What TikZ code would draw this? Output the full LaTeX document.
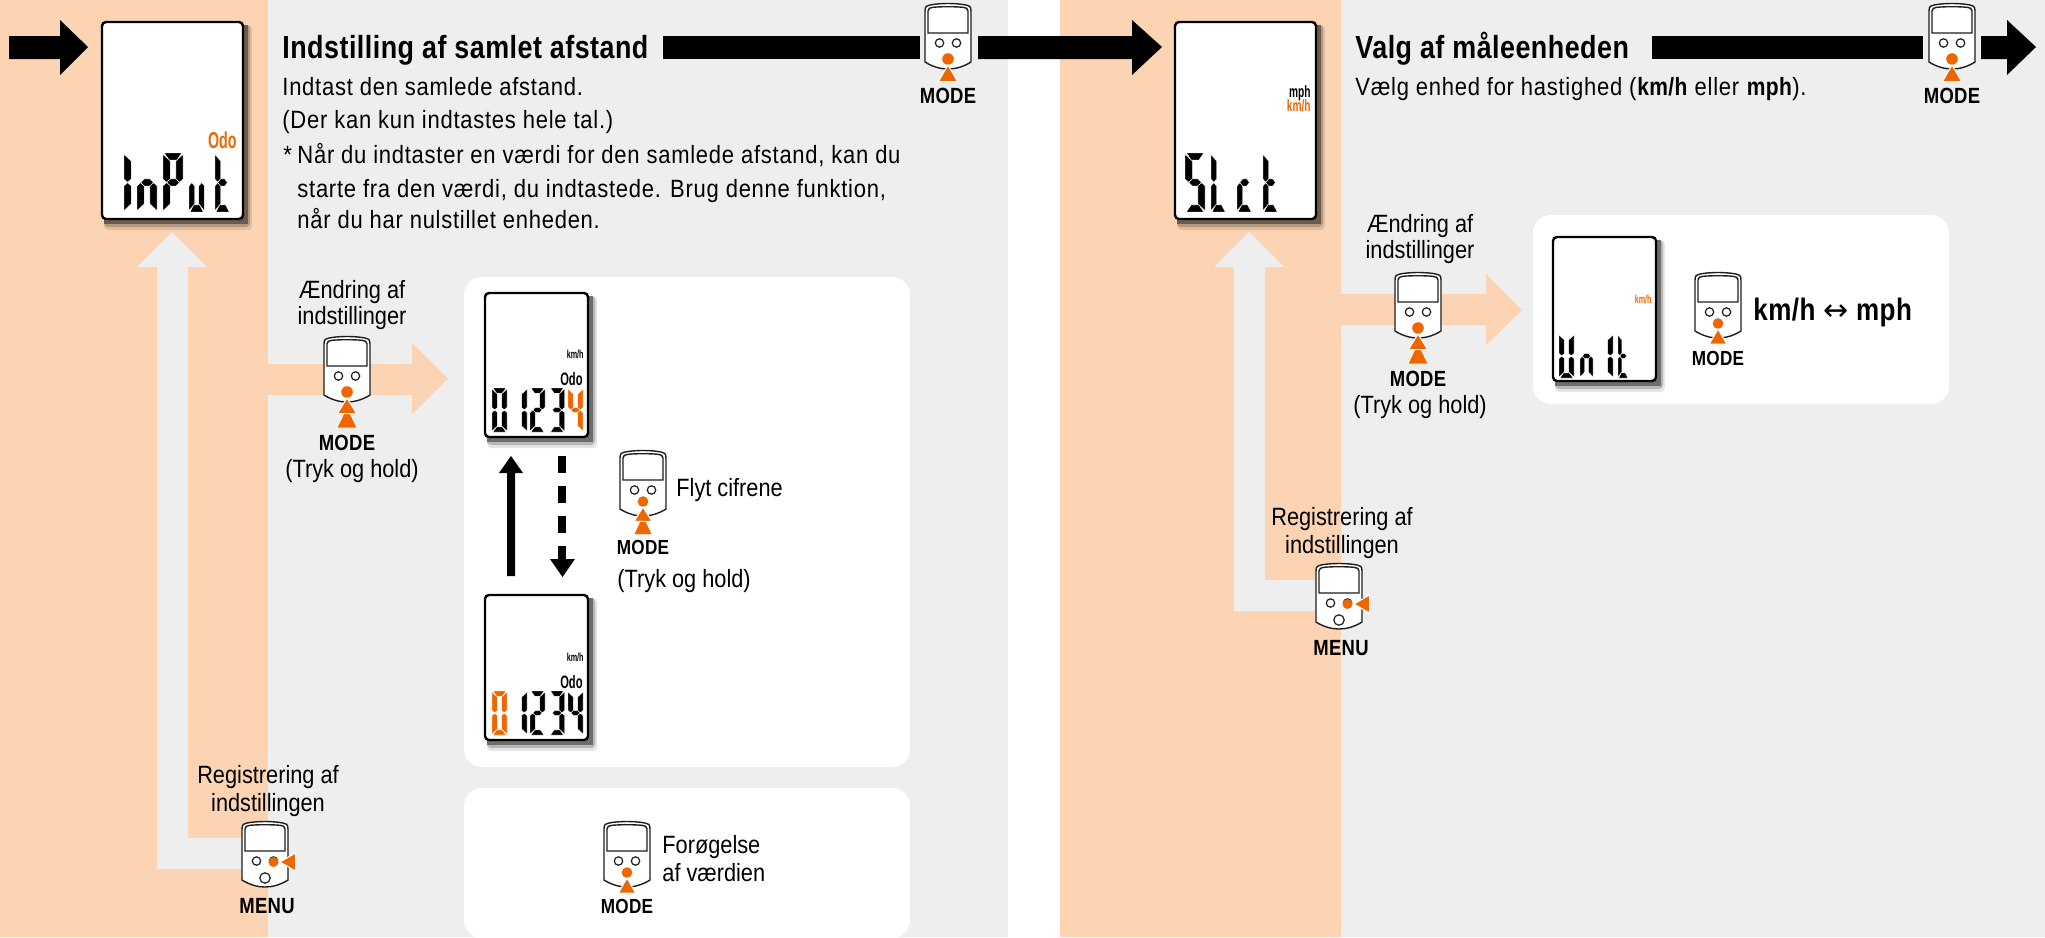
\documentclass[tikz,border=0pt]{standalone}
\usepackage{fontspec}
\usepackage{amsmath}
\setmainfont{Liberation Sans}[FakeStretch=0.87, BoldFeatures={FakeStretch=0.84, LetterSpace=1.5}]
\newfontfamily\bodyfont{Liberation Sans}[FakeStretch=0.88, LetterSpace=3, BoldFeatures={FakeStretch=0.84, LetterSpace=1.5}]
\newfontfamily\narrowbold{Liberation Sans Bold}[FakeStretch=0.62]
\definecolor{mpeach}{RGB}{252, 212, 180}
\definecolor{mgrey}{RGB}{238, 238, 238}
\definecolor{morange}{RGB}{238, 102, 0}
\definecolor{mline}{RGB}{30, 30, 30}

\newcommand{\segA}{(1, 0) -- (14, 0) -- (10.4, 5.2) -- (4.6, 5.2) -- cycle}
\newcommand{\segB}{(15, 1) -- (15, 19.5) -- (12.4, 21.8) -- (9.6, 19.5) -- (9.6, 6) -- cycle}
\newcommand{\segC}{(15, 43) -- (15, 24.5) -- (12.4, 22.2) -- (9.6, 24.5) -- (9.6, 38) -- cycle}
\newcommand{\segD}{(1, 44) -- (14, 44) -- (10.4, 38.8) -- (4.6, 38.8) -- cycle}
\newcommand{\segE}{(0, 43) -- (0, 24.5) -- (2.6, 22.2) -- (5.4, 24.5) -- (5.4, 38) -- cycle}
\newcommand{\segF}{(0, 1) -- (0, 19.5) -- (2.6, 21.8) -- (5.4, 19.5) -- (5.4, 6) -- cycle}
\newcommand{\segG}{(2.8, 22) -- (5.4, 19.4) -- (9.6, 19.4) -- (12.2, 22) -- (9.6, 24.6) -- (5.4, 24.6) -- cycle}

% #1 x, #2 y, #3 xscale, #4 yscale, #5 colour, #6 segments
\newcommand{\lcdglyph}[6]{
  \begin{scope}[shift={(#1, #2)}, xscale=#3, yscale=#4, fill=#5, draw=white, line width=0.2pt]
    \foreach \seg in {#6} {
      \expandafter\filldraw\csname seg\seg\endcsname;
    }
  \end{scope}
}
\newcommand{\lcdframe}[4]{
  \fill [black, opacity=0.1, rounded corners=2pt] (#1 + 3, #2 + 4) rectangle (#3 + 8, #4 + 10);
  \fill [black, opacity=0.2, rounded corners=2pt] (#1 + 3, #2 + 4) rectangle (#3 + 6, #4 + 7);
  \fill [black, opacity=0.4] (#1 + 3, #2 + 4) rectangle (#3 + 3.5, #4 + 4);
  \draw [black, fill=white, line width=1.2pt, rounded corners=2pt] (#1 + 1, #2 + 1) rectangle (#3 - 1, #4 - 1);
}
\newcommand{\digitrow}[3]{
  \lcdglyph{492}{#1}{1}{1}{#2}{A,B,C,D,E,F}
  \lcdglyph{512}{#1}{1}{1}{black}{B,C}
  \lcdglyph{530}{#1}{1}{1}{black}{A,B,G,E,D}
  \lcdglyph{549.5}{#1}{1}{1}{black}{A,B,G,C,D}
  \lcdglyph{568}{#1}{1}{1}{#3}{F,G,B,C}
}

\tikzset{
  devicebody/.pic = {
    \draw [mline, fill=white, line width=0.7pt] (-23, 8) .. controls (-23, 3) and (-21, 2.5) .. (-18, 2)
      .. controls (-8, 0) and (8, 0) .. (18, 2) .. controls (21, 2.5) and (23, 3) .. (23, 8)
      -- (23, 59) .. controls (15, 64) and (7, 66) .. (0, 66)
      .. controls (-7, 66) and (-15, 64) .. (-23, 59) -- cycle;
    \draw [mline, line width=0.7pt] (-20, 30) -- (-20, 8) .. controls (-20, 5.5) and (-18, 4.5) .. (-15, 4.3)
      .. controls (-6, 3.5) and (6, 3.5) .. (15, 4.3) .. controls (18, 4.5) and (20, 5.5) .. (20, 8)
      -- (20, 30) -- cycle;
    \draw [mline, line width=0.6pt] (-8.5, 40) circle [radius=4.2];
    \draw [mline, line width=0.6pt] (8.5, 40) circle [radius=4.2];
  },
  modekey/.pic = {
    \pic {devicebody};
    \fill [morange] (0, 56) circle [radius=5.8];
    \filldraw [morange, draw=white, line width=0.5pt] (0, 62) -- (9.5, 78.5) -- (-9.5, 78.5) -- cycle;
  },
  holdkey/.pic = {
    \pic {devicebody};
    \fill [morange] (0, 56) circle [radius=5.8];
    \filldraw [morange, draw=white, line width=0.3pt] (0, 71) -- (10, 92) -- (-10, 92) -- cycle;
    \filldraw [morange, draw=white, line width=0.5pt] (0, 62) -- (9.5, 77.5) -- (-9.5, 77.5) -- cycle;
  },
  menukey/.pic = {
    \pic {devicebody};
    \draw [mline, line width=0.6pt] (0, 57) circle [radius=5.2];
    \fill [morange] (8.5, 41) circle [radius=5];
    \filldraw [morange, draw=white, line width=0.5pt] (15, 41) -- (30.5, 32) -- (30.5, 50) -- cycle;
  },
  plaintext/.style = {inner sep=0, font=\fontsize{12.5}{15}\selectfont, text=black},
  lefttext/.style = {plaintext, anchor=base west},
  midtext/.style = {plaintext, anchor=base},
  bodytext/.style = {inner sep=0, anchor=base west, text=black, font=\bodyfont\fontsize{12.5}{15}\selectfont},
  titletext/.style = {inner sep=0, anchor=base west, font=\fontsize{16}{19}\bfseries\selectfont},
  keytext/.style = {inner sep=0, anchor=base, font=\fontsize{11}{13}\bfseries\selectfont},
  smallkeytext/.style = {inner sep=0, anchor=base, font=\fontsize{10.2}{12}\bfseries\selectfont},
  lcdtext/.style = {inner sep=0, anchor=base east, font=\narrowbold\fontsize{#1}{#1}\selectfont},
  whitebox/.style = {fill=white, rounded corners=9pt},
}

\begin{document}
\begin{tikzpicture}[x=0.5pt, y=-0.5pt]
  \useasboundingbox (0, 0) rectangle (2045, 937);

  \fill [mpeach] (0, 0) rectangle (268, 937);
  \fill [mgrey] (268, 0) rectangle (1008, 937);
  \fill [mpeach] (1060, 0) rectangle (1341, 937);
  \fill [mgrey] (1341, 0) rectangle (2045, 937);

  \begin{scope}
    \clip (0, 0) rectangle (2045, 937);
    \fill [whitebox] (464, 277) rectangle (910, 767);
    \fill [whitebox] (464, 788) rectangle (910, 938);
    \fill [whitebox] (1533, 215) rectangle (1949, 404);
  \end{scope}

  % return arrows
  \fill [mgrey] (268, 838) -- (188, 838) -- (188, 267) -- (207, 267) -- (172, 232)
    -- (137, 267) -- (157, 267) -- (157, 869) -- (268, 869) -- cycle;
  \fill [mgrey] (1341, 580) -- (1265, 580) -- (1265, 267) -- (1284, 267) -- (1249, 232)
    -- (1214, 267) -- (1234, 267) -- (1234, 611) -- (1341, 611) -- cycle;

  % setting arrows
  \fill [mpeach] (268, 364) -- (412, 364) -- (412, 343) -- (448, 379) -- (412, 414) -- (412, 395) -- (268, 395) -- cycle;
  \fill [mpeach] (1341, 294) -- (1486, 294) -- (1486, 274) -- (1522, 310) -- (1486, 345) -- (1486, 325) -- (1341, 325) -- cycle;

  % flow arrows
  \fill (9, 36) -- (60, 36) -- (60, 20) -- (88, 47) -- (60, 75) -- (60, 59) -- (9, 59) -- cycle;
  \fill (663, 36) rectangle (920, 59);
  \fill (978, 36) -- (1132, 36) -- (1132, 20) -- (1162, 47) -- (1132, 75) -- (1132, 59) -- (978, 59) -- cycle;
  \fill (1652, 36) rectangle (1923, 59);
  \fill (1981, 36) -- (2007, 36) -- (2007, 20) -- (2036, 47) -- (2007, 75) -- (2007, 59) -- (1981, 59) -- cycle;

  % up and down between the displays
  \fill (507, 576) -- (507, 473) -- (499, 473) -- (511, 456) -- (523, 473) -- (515, 473) -- (515, 576) -- cycle;
  \draw [line width=4pt, dash pattern=on 8.5pt off 6.5pt] (562, 456) -- (562, 560);
  \fill (550, 559) -- (575, 559) -- (562.5, 577) -- cycle;

  % displays
  \lcdframe{101}{21}{244}{220}
  \node [lcdtext=11.5, text=morange] (odotop) at (237, 148) {Odo};
  \lcdglyph{124}{153}{1.34}{1.34}{black}{E,F}
  \lcdglyph{137}{153}{1.34}{1.34}{black}{E,G,C}
  \lcdglyph{163}{153}{1.34}{1.34}{black}{A,B,F,G,E}
  \lcdglyph{189}{153}{1.02}{1.34}{black}{E,D,C}
  \lcdglyph{215}{153}{1.02}{1.34}{black}{F,E,G,D}

  \lcdframe{484}{292}{589}{438}
  \node [lcdtext=5.8] (kmhupper) at (584, 358) {km/h};
  \node [lcdtext=9] (odoupper) at (583, 385) {Odo};
  \digitrow{388}{black}{morange}

  \lcdframe{484}{594}{589}{741}
  \node [lcdtext=5.8] (kmhlower) at (584, 661) {km/h};
  \node [lcdtext=9] (odolower) at (583, 688) {Odo};
  \digitrow{691}{morange}{black}

  \lcdframe{1174}{21}{1317}{220}
  \node [lcdtext=8.2] (mphtop) at (1311, 97) {mph};
  \node [lcdtext=8.2, text=morange] (kmhtop) at (1311, 111) {km/h};
  \lcdglyph{1185}{153}{1.34}{1.34}{black}{A,F,G,C,D}
  \lcdglyph{1211}{153}{1.02}{1.34}{black}{F,E,D}
  \lcdglyph{1237}{153}{1.02}{1.34}{black}{G,E,D}
  \lcdglyph{1263}{153}{1.02}{1.34}{black}{F,E,G,D}

  \lcdframe{1552}{236}{1657}{382}
  \node [lcdtext=5.8, text=morange] (kmhunit) at (1652, 303) {km/h};
  \lcdglyph{1559}{334}{1}{1}{black}{F,E,D,C,B}
  \lcdglyph{1580}{334}{0.87}{1}{black}{E,G,C}
  \lcdglyph{1598}{334}{1}{1}{black}{B,C}
  \lcdglyph{1618}{334}{0.7}{1}{black}{F,E,G,D}

  % left page
  \node [titletext] (titleleft) at (282, 58) {Indstilling af samlet afstand};
  \node [bodytext] (enterline) at (282, 95) {Indtast den samlede afstand.};
  \node [bodytext] (wholeline) at (282, 128) {(Der kan kun indtastes hele tal.)};
  \node [bodytext] (star) at (283, 163) {*};
  \node [bodytext] (noteone) at (297, 163) {Når du indtaster en værdi for den samlede afstand, kan du};
  \node [bodytext] (notetwo) at (297, 197) {starte fra den værdi, du indtastede. Brug denne funktion,};
  \node [bodytext] (notethree) at (297, 228) {når du har nulstillet enheden.};

  \pic at (948, 3) {modekey};
  \node [keytext] (modetop) at (948, 103) {MODE};

  \node [midtext] (changeone) at (352, 298) {Ændring af};
  \node [midtext] (changetwo) at (352, 324) {indstillinger};
  \pic at (347, 336) {holdkey};
  \node [keytext] (modechange) at (347, 450) {MODE};
  \node [midtext] (holdleft) at (352, 477) {(Tryk og hold)};

  \pic [scale=0.92] at (643, 450) {holdkey};
  \node [lefttext] (moveline) at (676, 496) {Flyt cifrene};
  \node [smallkeytext] (modemove) at (643, 554) {MODE};
  \node [lefttext] (holdmove) at (617, 587) {(Tryk og hold)};

  \pic [scale=0.92] at (627, 821) {modekey};
  \node [lefttext] (moreone) at (662, 853) {Forøgelse};
  \node [lefttext] (moretwo) at (662, 881) {af værdien};
  \node [smallkeytext] (modemore) at (627, 913) {MODE};

  \node [midtext] (saveone) at (268, 783) {Registrering af};
  \node [midtext] (savetwo) at (268, 811) {indstillingen};
  \pic at (265, 821) {menukey};
  \node [keytext] (menuleft) at (267, 913) {MENU};

  % right page
  \node [titletext] (titleright) at (1355, 58) {Valg af måleenheden};
  \node [bodytext] (chooseline) at (1355, 95) {Vælg enhed for hastighed (\textbf{km/h} eller \textbf{mph}).};

  \pic at (1952, 3) {modekey};
  \node [keytext] (modeend) at (1952, 103) {MODE};

  \node [midtext] (changethree) at (1420, 232) {Ændring af};
  \node [midtext] (changefour) at (1420, 258) {indstillinger};
  \pic at (1418, 272) {holdkey};
  \node [keytext] (modeunit) at (1418, 386) {MODE};
  \node [midtext] (holdright) at (1420, 413) {(Tryk og hold)};

  \pic [scale=0.92] at (1718, 272) {modekey};
  \node [smallkeytext] (modeswap) at (1718, 365) {MODE};
  \node [inner sep=0, anchor=base west, font=\fontsize{15.5}{18}\bfseries\selectfont] (swapline) at (1753, 320)
    {km/h {\fontspec{DejaVu Sans}\mdseries\fontsize{15}{18}\selectfont ↔} mph};

  \node [midtext] (savethree) at (1342, 525) {Registrering af};
  \node [midtext] (savefour) at (1342, 553) {indstillingen};
  \pic at (1339, 563) {menukey};
  \node [keytext] (menuright) at (1341, 655) {MENU};
\end{tikzpicture}
\end{document}
